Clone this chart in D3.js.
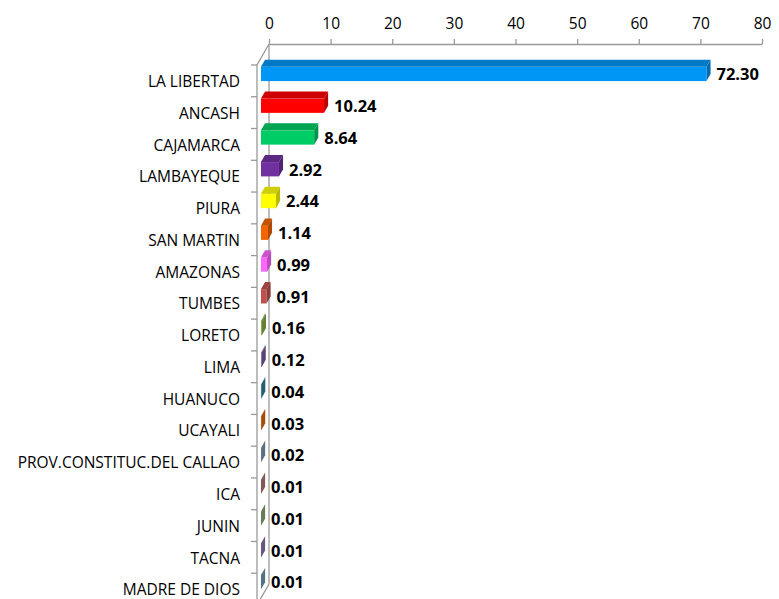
<!DOCTYPE html>
<html>
<head>
<meta charset="utf-8">
<script src="https://cdn.jsdelivr.net/npm/d3@7"></script>
<style>
  body { margin: 0; background: #fff; }
  text { font-family: "Open Sans", sans-serif; }
</style>
</head>
<body>
<div id="chart"></div>
<script>
var width = 779,
    height = 599;

// data
var regions = ["LA LIBERTAD", "ANCASH", "CAJAMARCA", "LAMBAYEQUE", "PIURA", "SAN MARTIN",
  "AMAZONAS", "TUMBES", "LORETO", "LIMA", "HUANUCO", "UCAYALI",
  "PROV.CONSTITUC.DEL CALLAO", "ICA", "JUNIN", "TACNA", "MADRE DE DIOS"];
var values = [72.30, 10.24, 8.64, 2.92, 2.44, 1.14, 0.99, 0.91, 0.16, 0.12, 0.04, 0.03,
  0.02, 0.01, 0.01, 0.01, 0.01];
var colors = ["#0096F5", "#FF0000", "#00CC66", "#7030A0", "#FFFF00", "#F26500",
  "#FF66FF", "#C0504D", "#8EAE4E", "#7A5FA0", "#31859C", "#E46C0A",
  "#7F97B2", "#B07A7A", "#8FAA78", "#8A7AAA", "#6FA0B2"];
var xTicks = [0, 10, 20, 30, 40, 50, 60, 70, 80];

var rows = regions.map(function(r, i){
  return {name: r, value: values[i], color: colors[i]};
});

// oblique depth (front plane -> back wall)
var depth = {dx: 12, dy: -21};
var f1 = 0.33, f2 = 0.67;   // bar front / back depth fractions

var svg = d3.select("#chart")
  .append("svg")
  .attr("width", width)
  .attr("height", height);

var x = d3.scaleLinear().domain([0, 80]).range([257, 750]);
var y = d3.scaleBand().domain(regions).range([65, 605])
  .paddingInner(0.55).paddingOuter(0.275);

var axisColor = "#9a9a9a";
var yTop = y.range()[0], yBot = y.range()[1];
var x0 = x(0);

// back wall + floor edges
var wall = svg.append("g")
  .attr("fill", "none")
  .attr("stroke", axisColor)
  .attr("stroke-width", 1.3);
wall.append("path")
  .attr("d", "M" + (x0 + depth.dx) + "," + (yTop + depth.dy) +
             "L" + (x0 + depth.dx) + "," + (yBot + depth.dy) +
             "L" + x0 + "," + yBot);
wall.append("path")
  .attr("d", "M" + (x0 + depth.dx) + "," + (yTop + depth.dy) + "L" + x0 + "," + yTop +
             "L" + x0 + "," + yBot);

// top value axis on the back plane
var xBack = x.copy().range(x.range().map(function(v){ return v + depth.dx }));
var topAxis = svg.append("g")
  .attr("transform", "translate(0," + (yTop + depth.dy) + ")")
  .call(d3.axisTop(xBack).tickValues(xTicks).tickSize(5).tickPadding(10).tickSizeOuter(0));
topAxis.select(".domain").attr("stroke", axisColor).attr("stroke-width", 1.3);
topAxis.selectAll(".tick line").attr("stroke", axisColor).attr("stroke-width", 1.3);
topAxis.selectAll("text")
  .attr("fill", "#000")
  .style("font-size", "15.5px")
  .style("font-family", "'Open Sans', sans-serif");

// left category axis ticks at band boundaries
var bounds = d3.range(regions.length + 1).map(function(i){ return yTop + i * y.step() });
svg.append("g").selectAll("line")
  .data(bounds)
  .enter()
  .append("line")
  .attr("x1", x0 - 6).attr("x2", x0)
  .attr("y1", function(d){ return d })
  .attr("y2", function(d){ return d })
  .attr("stroke", axisColor)
  .attr("stroke-width", 1.3);

// category labels
svg.append("g").selectAll("text")
  .data(rows)
  .enter()
  .append("text")
  .attr("x", 240)
  .attr("y", function(d){ return y(d.name) + y.bandwidth() / 2 })
  .attr("dy", "0.4em")
  .attr("text-anchor", "end")
  .style("font-size", "15.5px")
  .attr("fill", "#000")
  .text(function(d){ return d.name });

// 3D bars
var bars = svg.append("g").selectAll("g")
  .data(rows)
  .enter()
  .append("g");

var ox = depth.dx * f1, oy = depth.dy * f1;
var ddx = depth.dx * (f2 - f1), ddy = depth.dy * (f2 - f1);

function pts(p){ return p.map(function(q){ return q.join(",") }).join(" ") }

bars.append("rect")
  .attr("x", x0 + ox)
  .attr("y", function(d){ return y(d.name) + oy })
  .attr("width", function(d){ return x(d.value) - x0 })
  .attr("height", y.bandwidth())
  .attr("fill", function(d){ return d.color });

bars.append("polygon")
  .attr("points", function(d){
    var a = x0 + ox, b = x(d.value) + ox, t = y(d.name) + oy;
    return pts([[a, t], [b, t], [b + ddx, t + ddy], [a + ddx, t + ddy]]);
  })
  .attr("fill", function(d){ return d3.color(d.color).darker(0.6) });

bars.append("polygon")
  .attr("points", function(d){
    var b = x(d.value) + ox, t = y(d.name) + oy, h = y.bandwidth();
    return pts([[b, t], [b + ddx, t + ddy], [b + ddx, t + ddy + h], [b, t + h]]);
  })
  .attr("fill", function(d){ return d3.color(d.color).darker(0.9) });

// value labels
bars.append("text")
  .attr("x", function(d){ return x(d.value) + ox + 10 })
  .attr("y", function(d){ return y(d.name) + oy + y.bandwidth() / 2 })
  .attr("dy", "0.38em")
  .style("font-size", "16.5px")
  .style("font-weight", "bold")
  .attr("fill", "#000")
  .text(function(d){ return d.value.toFixed(2) });
</script>
</body>
</html>
